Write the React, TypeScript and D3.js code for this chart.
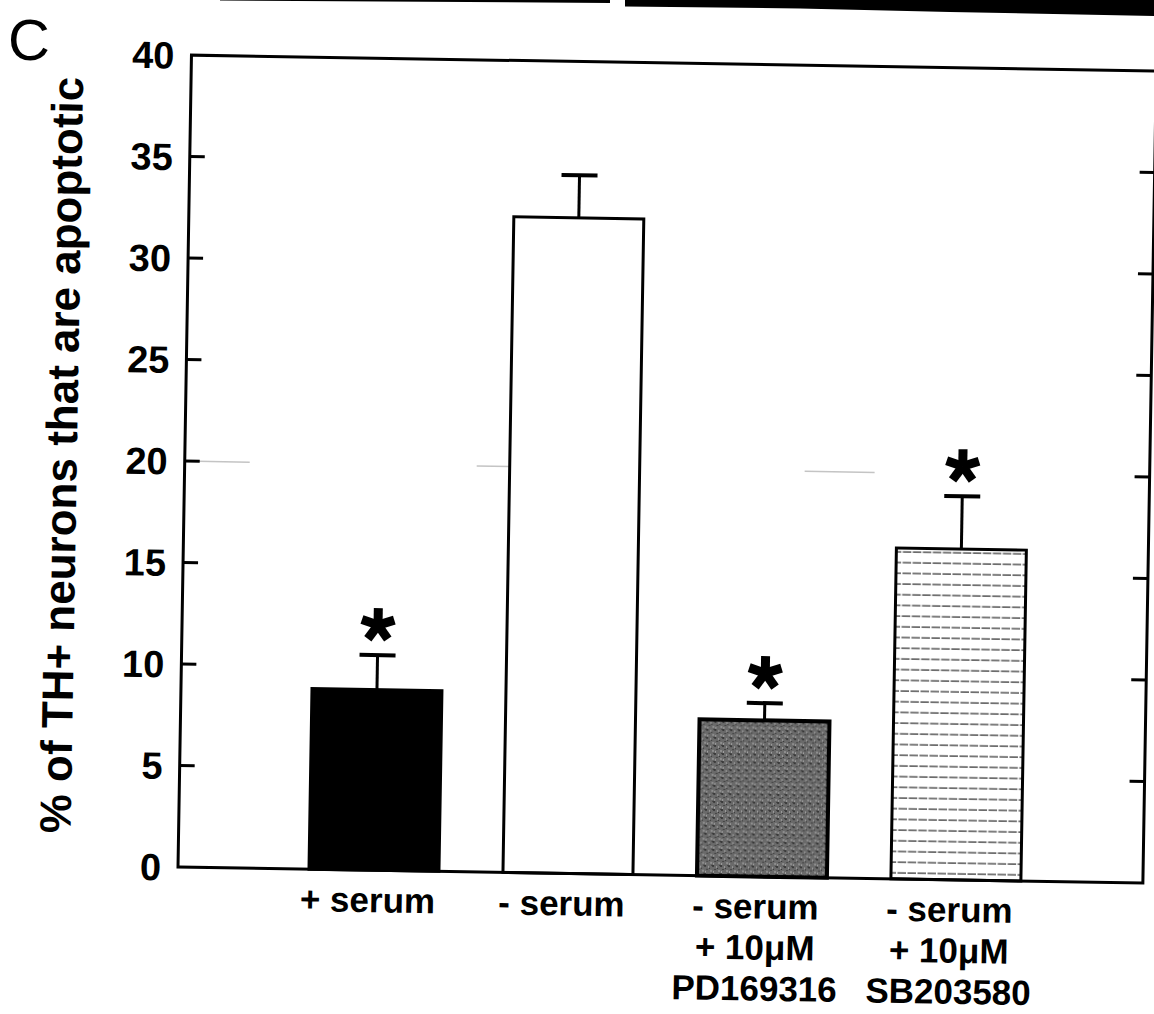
import React from "react";
import * as d3 from "d3";

// ---- data ----
const categories = ["+serum", "-serum", "-serum+PD169316", "-serum+SB203580"];
const labelLines: string[][] = [
  ["+ serum"],
  ["- serum"],
  ["- serum", "+ 10μM", "PD169316"],
  ["- serum", "+ 10μM", "SB203580"],
];
const means = [8.9, 32.3, 7.7, 16.3];
const errors = [1.7, 2.1, 0.85, 2.6];
const significant = [true, false, true, true];
const fills = ["black", "white", "url(#stipple)", "url(#hlines)"];
const yTicks = [0, 5, 10, 15, 20, 25, 30, 35, 40];
const yLabel = "% of TH+ neurons that are apoptotic";
const panelLetter = "C";

const W = 1154;
const H = 1014;
const L = 178;
const R = 1143;
const B = 867;
const T = 55;
const FONT = "'Liberation Sans', Arial, Helvetica, sans-serif";

function Asterisk({ cx, cy }: { cx: number; cy: number }) {
  const arm = 17;
  const angles = [-90, -18, 54, 126, 198];
  return (
    <g>
      {angles.map((a, i) => {
        const r = (a * Math.PI) / 180;
        return (
          <line
            key={i}
            x1={cx}
            y1={cy}
            x2={cx + arm * Math.cos(r)}
            y2={cy + arm * Math.sin(r)}
            stroke="black"
            strokeWidth={9}
          />
        );
      })}
    </g>
  );
}

export default function App() {
  const x = d3
    .scaleBand<string>()
    .domain(categories)
    .range([277, 1053])
    .paddingInner(0.33)
    .paddingOuter(0.165);
  const y = d3.scaleLinear().domain([0, 40]).range([B, T]);
  const bw = x.bandwidth();

  return (
    <svg
      width={W}
      height={H}
      style={{ position: "absolute", left: 0, top: 0, background: "white" }}
      fontFamily={FONT}
    >
      <defs>
        <pattern id="stipple" width="8" height="8" patternUnits="userSpaceOnUse">
          <rect width="8" height="8" fill="#6a6a6a" />
          <rect x="0" y="0" width="2" height="2" fill="#3a3a3a" />
          <rect x="4" y="1" width="1" height="2" fill="#9a9a9a" />
          <rect x="2" y="4" width="2" height="1" fill="#444" />
          <rect x="6" y="5" width="2" height="2" fill="#8d8d8d" />
          <rect x="5" y="3" width="1" height="1" fill="#333" />
          <rect x="1" y="6" width="1" height="2" fill="#a0a0a0" />
          <rect x="7" y="0" width="1" height="1" fill="#404040" />
        </pattern>
        <pattern id="hlines" width="10" height="10.7" patternUnits="userSpaceOnUse">
          <rect width="10" height="10.7" fill="white" />
          <line x1="0" y1="5" x2="10" y2="5" stroke="#6a6a6a" strokeWidth="1.5" strokeDasharray="6 1.5" />
        </pattern>
      </defs>

      {/* scan artefact from the panel above */}
      <polygon points="220,0 610,0 610,3 220,0.5" fill="black" />
      <polygon points="625,0 1154,0 1154,16 950,12 800,8.5 625,6.5" fill="black" />

      <text x={8} y={60} fontSize={58} fill="black">
        {panelLetter}
      </text>

      <g transform={`rotate(0.95 ${L} ${B})`}>
        {/* faint scan gridline */}
        <line
          x1={L}
          x2={R}
          y1={y(20)}
          y2={y(20)}
          stroke="#c4c4c4"
          strokeWidth={1.5}
          strokeDasharray="65 227 40 288 70 1000"
        />

        {/* bars */}
        {categories.map((c, i) => {
          const x0 = x(c)!;
          const cx = x0 + bw / 2;
          const top = y(means[i]);
          const etop = y(means[i] + errors[i]);
          return (
            <g key={c}>
              <line x1={cx} x2={cx} y1={top} y2={etop} stroke="black" strokeWidth={3} />
              <line x1={cx - 18} x2={cx + 18} y1={etop} y2={etop} stroke="black" strokeWidth={4} />
              <rect
                x={x0}
                y={top}
                width={bw}
                height={B - top}
                fill={fills[i]}
                stroke="black"
                strokeWidth={i === 2 ? 4 : 3}
              />
              {significant[i] && <Asterisk cx={cx} cy={etop - 30} />}
            </g>
          );
        })}

        {/* frame */}
        <rect x={L} y={T} width={R - L} height={B - T} fill="none" stroke="black" strokeWidth={3} />

        {/* ticks */}
        {yTicks.slice(1, -1).map((t) => (
          <g key={t}>
            <line x1={L} x2={L + 15} y1={y(t)} y2={y(t)} stroke="black" strokeWidth={3} />
            <line x1={R - 15} x2={R} y1={y(t)} y2={y(t)} stroke="black" strokeWidth={3} />
          </g>
        ))}
        {yTicks.map((t) => (
          <text
            key={t}
            x={L - 17}
            y={y(t)}
            dy="0.36em"
            textAnchor="end"
            fontSize={38}
            fontWeight="bold"
          >
            {t}
          </text>
        ))}

        {/* y label */}
        <text
          transform={`translate(70 ${(T + B) / 2 - 4}) rotate(-90)`}
          textAnchor="middle"
          fontSize={44}
          fontWeight="bold"
        >
          {yLabel}
        </text>

        {/* x labels */}
        {categories.map((c, i) => {
          const cx = x(c)! + bw / 2 - 6;
          return (
            <text key={c} textAnchor="middle" fontSize={35} fontWeight="bold">
              {labelLines[i].map((ln, k) => (
                <tspan key={k} x={cx} y={909 + k * 41}>
                  {ln}
                </tspan>
              ))}
            </text>
          );
        })}
      </g>
    </svg>
  );
}
